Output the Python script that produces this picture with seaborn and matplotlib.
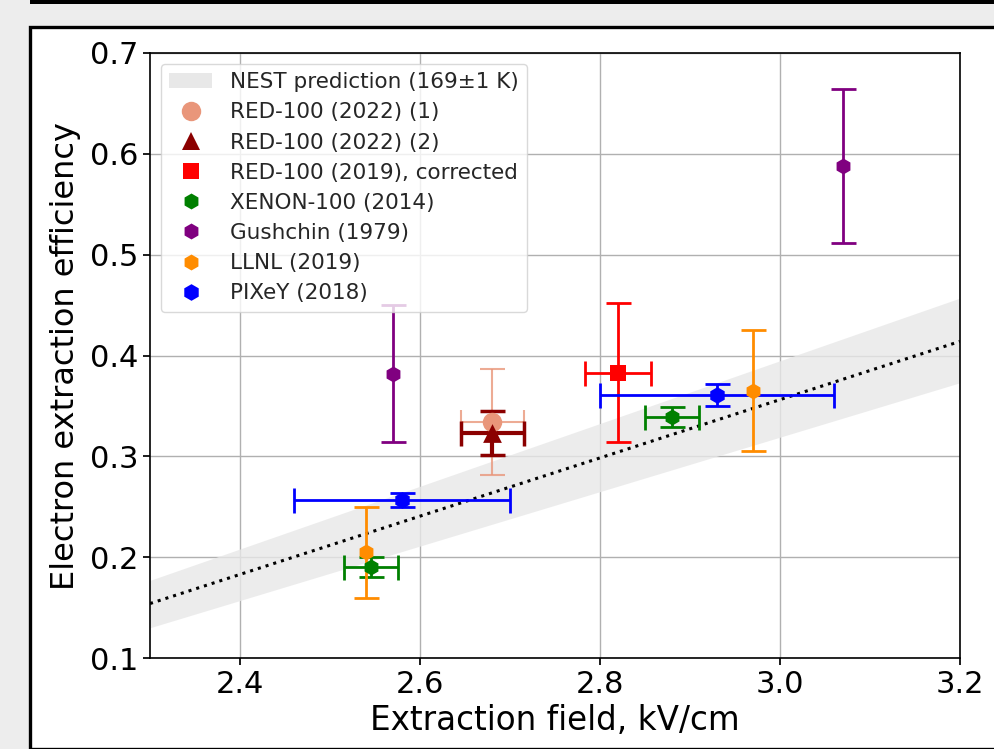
import matplotlib.pyplot as plt
import seaborn as sns
from matplotlib.patches import Patch, Rectangle

# NEST prediction band (169 +- 1 K)
nest_field = [2.3, 3.2]
nest_mid = [0.154, 0.414]
nest_lo = [0.130, 0.373]
nest_hi = [0.177, 0.457]

# Measurements
red22a_x, red22a_y, red22a_xerr, red22a_yerr = [2.68], [0.334], [0.035], [0.053]
red22b_x, red22b_y, red22b_xerr, red22b_yerr = [2.68], [0.323], [0.035], [0.022]
red19_x, red19_y, red19_xerr, red19_yerr = [2.82], [0.383], [0.037], [0.069]
xenon_x, xenon_y, xenon_xerr, xenon_yerr = [2.545, 2.88], [0.190, 0.339], [0.03, 0.03], [0.010, 0.010]
gush_x, gush_y, gush_yerr = [2.57, 3.07], [0.382, 0.588], [0.068, 0.076]
llnl_x, llnl_y, llnl_yerr = [2.54, 2.97], [0.205, 0.365], [0.045, 0.060]
pixey_x, pixey_y, pixey_xerr, pixey_yerr = [2.58, 2.93], [0.257, 0.361], [0.12, 0.13], [0.007, 0.011]

sns.set_theme(style="whitegrid", rc={
    "axes.edgecolor": "black",
    "axes.linewidth": 1.2,
    "grid.color": "#b0b0b0",
    "grid.linewidth": 1.0,
    "xtick.bottom": True,
    "ytick.left": True,
    "xtick.major.size": 5,
    "ytick.major.size": 5,
    "xtick.color": "black",
    "ytick.color": "black",
    "axes.labelcolor": "black",
})
plt.rcParams["font.family"] = ["DejaVu Sans"]

fig = plt.figure(figsize=(9.94, 7.49), dpi=100, facecolor="#ededed")
W, H = 994, 749
# screenshot frame
fig.add_artist(Rectangle((30 / W, 0), 1.0, 1 - 27 / H, transform=fig.transFigure,
                         facecolor="white", edgecolor="black", linewidth=2.4, zorder=0))
fig.add_artist(Rectangle((30 / W, 1 - 4 / H), 1.0, 6 / H, transform=fig.transFigure,
                         facecolor="black", edgecolor="none", zorder=0))

ax = fig.add_axes([150 / W, 1 - 658 / H, 810 / W, 605 / H])
ax.set_facecolor("white")

ax.fill_between(nest_field, nest_lo, nest_hi, color="#e8e8e8", alpha=0.8, linewidth=0, zorder=1)
sns.lineplot(x=nest_field, y=nest_mid, ax=ax, color="black", linestyle=":", linewidth=2.2, zorder=2)

eb = dict(fmt="none", capsize=9, zorder=3)
ax.errorbar(red22a_x, red22a_y, xerr=red22a_xerr, yerr=red22a_yerr, ecolor="darksalmon",
            elinewidth=1.5, capthick=1.5, alpha=0.8, **eb)
ax.errorbar(red22b_x, red22b_y, xerr=red22b_xerr, yerr=red22b_yerr, ecolor="darkred",
            elinewidth=3, capthick=2.5, **eb)
ax.errorbar(red19_x, red19_y, xerr=red19_xerr, yerr=red19_yerr, ecolor="red",
            elinewidth=2, capthick=2, **eb)
ax.errorbar(xenon_x, xenon_y, xerr=xenon_xerr, yerr=xenon_yerr, ecolor="green",
            elinewidth=2, capthick=2, **eb)
ax.errorbar(gush_x, gush_y, yerr=gush_yerr, ecolor="purple", elinewidth=2, capthick=2, **eb)
ax.errorbar(llnl_x, llnl_y, yerr=llnl_yerr, ecolor="darkorange", elinewidth=2, capthick=2, **eb)
ax.errorbar(pixey_x, pixey_y, xerr=pixey_xerr, yerr=pixey_yerr, ecolor="blue",
            elinewidth=2, capthick=2, **eb)

series = [
    (red22a_x, red22a_y, "o", 14, "darksalmon", "RED-100 (2022) (1)"),
    (red22b_x, red22b_y, "^", 13.5, "darkred", "RED-100 (2022) (2)"),
    (red19_x, red19_y, "s", 12, "red", "RED-100 (2019), corrected"),
    (xenon_x, xenon_y, "h", 11.5, "green", "XENON-100 (2014)"),
    (gush_x, gush_y, "h", 11.5, "purple", "Gushchin (1979)"),
    (llnl_x, llnl_y, "h", 11.5, "darkorange", "LLNL (2019)"),
    (pixey_x, pixey_y, "h", 12, "blue", "PIXeY (2018)"),
]
handles = [Patch(facecolor="#e8e8e8", edgecolor="none", label="NEST prediction (169±1 K)")]
for xs, ys, mk, ms, col, lab in series:
    sns.scatterplot(x=xs, y=ys, ax=ax, marker=mk, s=ms ** 2, color=col,
                    linewidth=0, zorder=4, legend=False)
    handles.append(plt.Line2D([], [], linestyle="none", marker=mk, markersize=ms,
                              color=col, markeredgewidth=0, label=lab))

ax.set_xlim(2.3, 3.2)
ax.set_ylim(0.1, 0.7)
ax.set_xticks([2.4, 2.6, 2.8, 3.0, 3.2])
ax.set_yticks([0.1, 0.2, 0.3, 0.4, 0.5, 0.6, 0.7])
ax.tick_params(labelsize=22)
ax.set_xlabel("Extraction field, kV/cm", fontsize=23.5, labelpad=4)
ax.set_ylabel("Electron extraction efficiency", fontsize=23, labelpad=6)
for sp in ax.spines.values():
    sp.set_color("black")

ax.legend(handles=handles, loc="upper left", fontsize=15.5, labelspacing=0.47,
          handlelength=2.0, borderaxespad=0.5, framealpha=0.8, edgecolor="#d0d0d0",
          facecolor="white")

fig.savefig("out.png", dpi=100, facecolor=fig.get_facecolor())
